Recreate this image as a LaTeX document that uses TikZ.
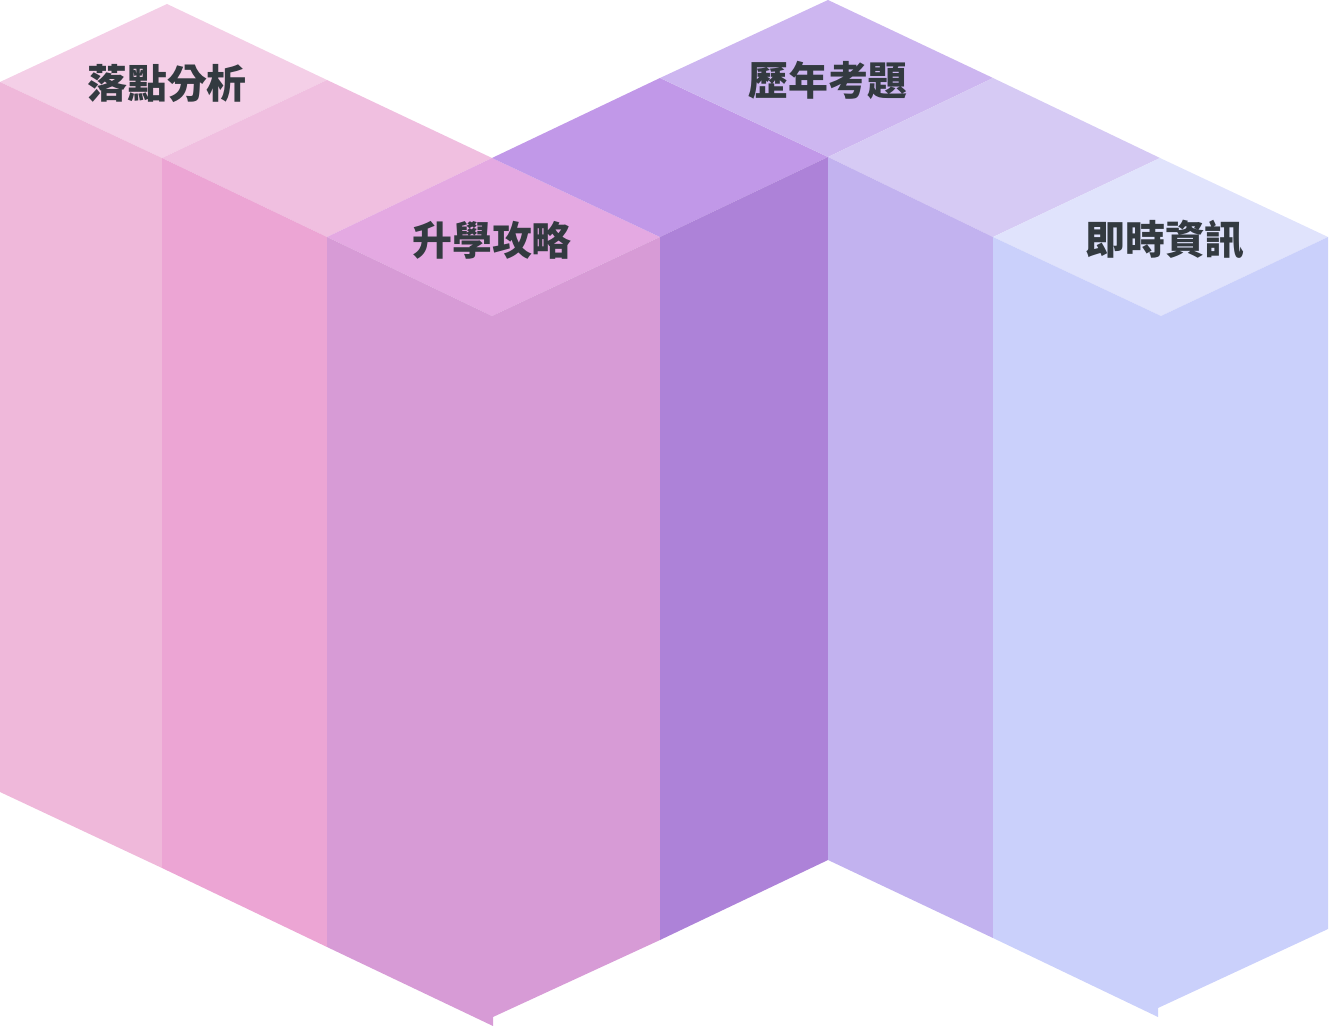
\documentclass[tikz,border=0pt]{standalone}
\usepackage{fontspec}
\newfontfamily\cjk{Noto Sans CJK TC}
\usepackage{tikz}
\usetikzlibrary{positioning,calc}
\definecolor{topA}{HTML}{F4CFE7}
\definecolor{topB}{HTML}{F0BFE0}
\definecolor{topC}{HTML}{E4A9E2}
\definecolor{topD}{HTML}{C198E8}
\definecolor{topE}{HTML}{CDB6F0}
\definecolor{topF}{HTML}{D6CAF4}
\definecolor{topG}{HTML}{E0E3FC}
\definecolor{sideA}{HTML}{EFB8DA}
\definecolor{sideB}{HTML}{ECA5D4}
\definecolor{sideC}{HTML}{D79BD6}
\definecolor{sideD}{HTML}{AD82D8}
\definecolor{sideE}{HTML}{C2B2EF}
\definecolor{sideF}{HTML}{CAD0FB}
\definecolor{ink}{HTML}{333A40}
\tikzstyle{title} = [text=ink,font=\cjk\bfseries\fontsize{22.7}{27}\selectfont]

\begin{document}
\begin{tikzpicture}[x=0.02cm,y=-0.02cm]
	\useasboundingbox (0,0) rectangle (1329,1026);
	% top faces
	\fill[topA] (0,82) -- (167,4) -- (327,80) -- (162,158) -- cycle;
	\fill[topB] (162,158) -- (327,80) -- (492,158) -- (327,237) -- cycle;
	\fill[topC] (327,237) -- (492,158) -- (660,237) -- (492,316) -- cycle;
	\fill[topD] (492,158) -- (660,78) -- (828,157) -- (660,237) -- cycle;
	\fill[topE] (660,78) -- (828,0) -- (993,78) -- (828,157) -- cycle;
	\fill[topF] (828,157) -- (993,78) -- (1160,158) -- (993,237) -- cycle;
	\fill[topG] (993,237) -- (1160,158) -- (1328,237) -- (1161,316) -- cycle;
	% side faces
	\fill[sideA] (0,82) -- (162,158) -- (162,868) -- (0,792) -- cycle;
	\fill[sideB] (162,158) -- (327,237) -- (327,947) -- (162,868) -- cycle;
	\fill[sideC] (327,237) -- (492,316) -- (660,237) -- (660,940) -- (493,1017) -- (493,1026) -- (327,947) -- cycle;
	\fill[sideD] (660,237) -- (828,157) -- (828,860) -- (660,940) -- cycle;
	\fill[sideE] (828,157) -- (993,237) -- (993,938) -- (828,860) -- cycle;
	\fill[sideF] (993,237) -- (1161,316) -- (1328,237) -- (1328,929) -- (1158,1008) -- (1158,1017) -- (993,938) -- cycle;
	% labels
	\node[title] (luodian) at (167,84) {落點分析};
	\node[title] (shengxue) at (492,240) {升學攻略};
	\node[title] (linian) at (828,80) {歷年考題};
	\node[title] (jishi) at (1165,240) {即時資訊};
\end{tikzpicture}
\end{document}
